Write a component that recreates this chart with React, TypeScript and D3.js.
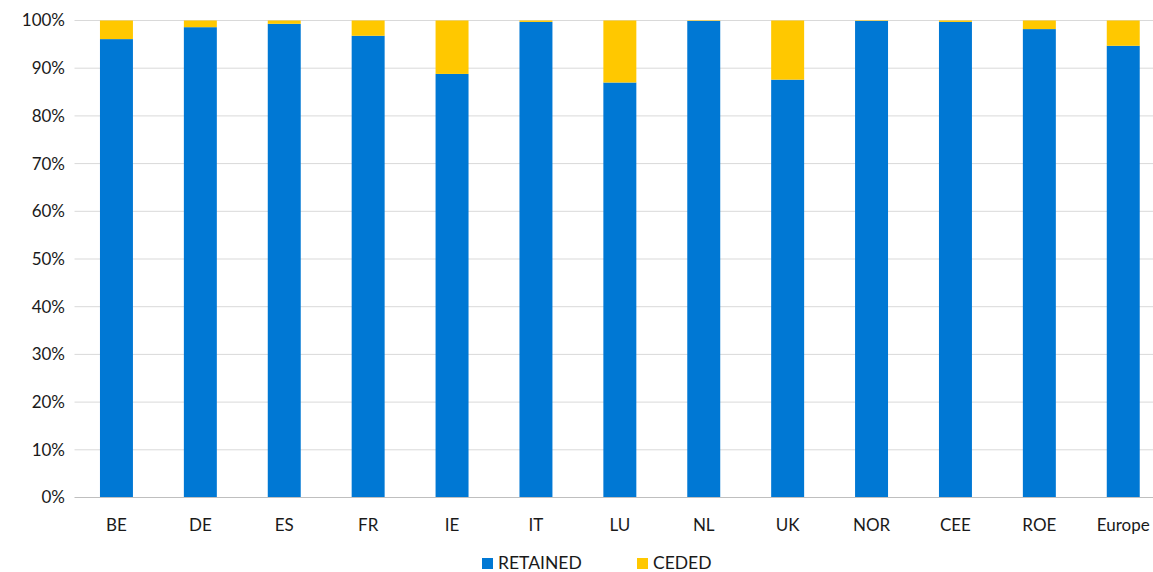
import React from "react";
import * as d3 from "d3";

const categories = ["BE", "DE", "ES", "FR", "IE", "IT", "LU", "NL", "UK", "NOR", "CEE", "ROE", "Europe"];
const retained = [96.1, 98.6, 99.3, 96.8, 88.8, 99.7, 87.0, 99.9, 87.6, 99.9, 99.7, 98.2, 94.7];
const ceded = retained.map((r) => 100 - r);
const yTicks = [0, 10, 20, 30, 40, 50, 60, 70, 80, 90, 100];
const seriesNames = ["RETAINED", "CEDED"];
const colors = ["#0078D4", "#FFC800"];

const W = 1153, H = 572;
const M = { left: 74.5, top: 20.5, bottom: 74.5 };
const plotRight = 74.5 + 13 * 83.9;

export default function App() {
  const x = d3.scaleBand<string>().domain(categories).range([M.left, plotRight]).paddingInner(0.607).paddingOuter(0.3035);
  const y = d3.scaleLinear().domain([0, 100]).range([H - M.bottom, M.top]);
  const font = "Lato, 'Open Sans', sans-serif";
  const stack = d3.stack<any>().keys(["r", "c"])(categories.map((c, i) => ({ r: retained[i], c: ceded[i] })));
  return (
    <svg width={W} height={H} style={{ position: "absolute", left: 0, top: 0, background: "#fff" }} fontFamily={font}>
      {yTicks.map((t) => (
        <g key={t}>
          {t > 0 && <line x1={M.left} x2={W} y1={y(t)} y2={y(t)} stroke="#D9D9D9" strokeWidth={1} />}
          <text x={65} y={y(t)} dy="0.35em" textAnchor="end" fontSize={17} fill="#1a1a1a">{t}%</text>
        </g>
      ))}
      {stack.map((s, si) =>
        s.map((d, i) => (
          <rect key={si + "-" + i} x={x(categories[i])} width={x.bandwidth()} y={y(d[1])} height={y(d[0]) - y(d[1])} fill={colors[si]} />
        ))
      )}
      <line x1={M.left} x2={W} y1={y(0)} y2={y(0)} stroke="#BFBFBF" strokeWidth={1.2} />
      {categories.map((c) => (
        <text key={c} x={(x(c) as number) + x.bandwidth() / 2} y={525} dy="0.35em" textAnchor="middle" fontSize={17} fill="#1a1a1a">{c}</text>
      ))}
      {seriesNames.map((n, i) => {
        const lx = i === 0 ? 482 : 637;
        return (
          <g key={n}>
            <rect x={lx} y={558} width={11} height={11} fill={colors[i]} />
            <text x={lx + 16} y={563} dy="0.35em" fontSize={17.5} fill="#1a1a1a">{n}</text>
          </g>
        );
      })}
    </svg>
  );
}
